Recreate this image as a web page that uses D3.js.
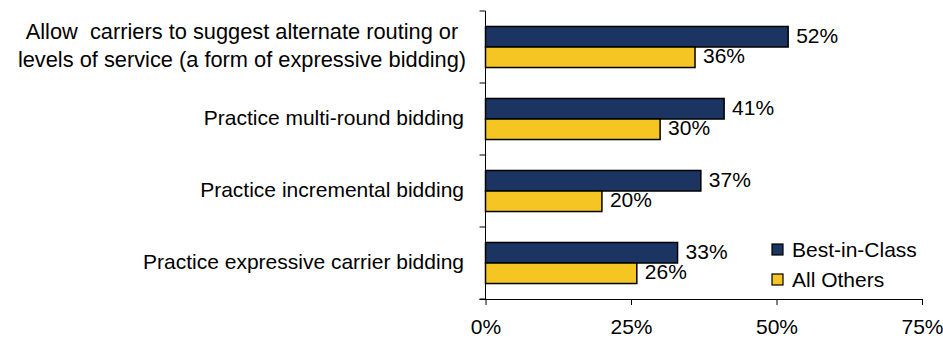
<!DOCTYPE html>
<html>
<head>
<meta charset="utf-8">
<script src="https://cdn.jsdelivr.net/npm/d3@7"></script>
<style>
  html, body { margin: 0; padding: 0; background: #fff; }
  svg { display: block; font-family: Arial, "Liberation Sans", sans-serif; }
</style>
</head>
<body>
<svg id="chart" width="943" height="341"></svg>
<script>
// Practices, top to bottom (multi-line labels split on "\n")
const categories = [
  "Allow  carriers to suggest alternate routing or\nlevels of service (a form of expressive bidding)",
  "Practice multi-round bidding",
  "Practice incremental bidding",
  "Practice expressive carrier bidding"
];
const seriesNames = ["Best-in-Class", "All Others"];
const bestInClass = [52, 41, 37, 33];
const allOthers = [36, 30, 20, 26];
const xTicks = [0, 25, 50, 75];
const colors = ["#1C3461", "#F5C623"];

const svg = d3.select("#chart");
const fontSize = 21;

const x0 = 485.5, x1 = 922, yTop = 11, yBot = 299;
const x = d3.scaleLinear().domain([0, 75]).range([x0, x1]);
const y = d3.scaleBand().domain(d3.range(categories.length)).range([yTop, yBot]).paddingInner(0.43).paddingOuter(0.215);
const ySub = d3.scaleBand().domain([0, 1]).range([0, y.bandwidth()]);

const series = [bestInClass, allOthers];

// Bars
series.forEach((vals, si) => {
  svg.append("g").selectAll("rect")
    .data(vals)
    .join("rect")
    .attr("x", x(0))
    .attr("y", (d, i) => y(i) + ySub(si))
    .attr("width", d => x(d) - x(0))
    .attr("height", ySub.bandwidth())
    .attr("fill", colors[si])
    .attr("stroke", "#000")
    .attr("stroke-width", 1.5);

  // Value labels
  svg.append("g").selectAll("text")
    .data(vals)
    .join("text")
    .attr("x", d => x(d) + 8)
    .attr("y", (d, i) => y(i) + ySub(si) + ySub.bandwidth() / 2 - 1.5)
    .attr("dominant-baseline", "central")
    .attr("font-size", fontSize)
    .attr("fill", "#000")
    .text(d => d + "%");
});

// Category axis with ticks between categories
const catEdges = d3.range(categories.length + 1).map(i => yTop + i * (yBot - yTop) / categories.length);
svg.append("line")
  .attr("x1", x0).attr("x2", x0).attr("y1", yTop).attr("y2", yBot)
  .attr("stroke", "#000").attr("stroke-width", 1);
svg.append("g").selectAll("line")
  .data(catEdges)
  .join("line")
  .attr("x1", x0 - 6).attr("x2", x0).attr("y1", d => d).attr("y2", d => d)
  .attr("stroke", "#000").attr("stroke-width", 1);

// Category labels
const labelG = svg.append("g").attr("font-size", fontSize).attr("fill", "#000");
categories.forEach((c, i) => {
  const lines = c.split("\n");
  const cy = y(i) + y.bandwidth() / 2 - 2;
  const lh = 28;
  const multi = lines.length > 1;
  const lx = multi ? 242 : 464;
  const t = labelG.append("text")
    .attr("text-anchor", multi ? "middle" : "end")
    .attr("x", lx)
    .attr("xml:space", "preserve");
  lines.forEach((ln, k) => {
    t.append("tspan")
      .attr("x", lx)
      .attr("y", cy + (k - (lines.length - 1) / 2) * lh)
      .attr("dominant-baseline", "central")
      .attr("font-size", multi ? 21.8 : fontSize)
      .text(ln);
  });
});

// Value axis
const xAxis = d3.axisBottom(x).tickValues(xTicks).tickFormat(d => d + "%").tickSize(6).tickPadding(14);
const ax = svg.append("g").attr("transform", `translate(0,${yBot})`).call(xAxis);
ax.select(".domain").attr("d", `M${x0 - 6},0.5H${x1}`).attr("stroke", "#000");
ax.selectAll(".tick line").attr("stroke", "#000");
ax.selectAll(".tick text").attr("font-size", fontSize).attr("fill", "#000");
ax.attr("font-family", null).attr("font-size", null);

// Legend
const legend = svg.append("g").attr("transform", "translate(772,244)");
seriesNames.forEach((name, i) => {
  const g = legend.append("g").attr("transform", `translate(0,${i * 30})`);
  g.append("rect").attr("width", 11).attr("height", 11)
    .attr("fill", colors[i]).attr("stroke", "#000").attr("stroke-width", 1.2);
  g.append("text").attr("x", 20).attr("y", 5.5)
    .attr("dominant-baseline", "central")
    .attr("font-size", fontSize).attr("fill", "#000")
    .text(name);
});
</script>
</body>
</html>
